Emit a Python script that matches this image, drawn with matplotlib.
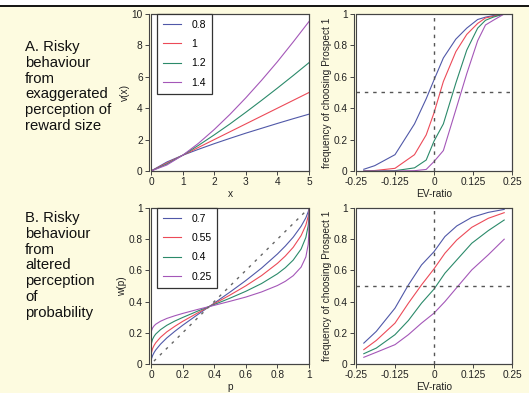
import matplotlib
matplotlib.use("Agg")
import matplotlib.pyplot as plt
from matplotlib.patches import Rectangle
from matplotlib.lines import Line2D

plt.rcParams['font.family'] = ['Liberation Sans', 'DejaVu Sans']

# ---------------- data ----------------
# Panel A-left: value function v(x)
x_vals = [0, 0.5, 1, 1.5, 2, 2.5, 3, 3.5, 4, 4.5, 5]
v_labels = ['0.8', '1', '1.2', '1.4']
v_08 = [0, 0.57, 1, 1.38, 1.74, 2.08, 2.41, 2.72, 3.03, 3.33, 3.62]
v_10 = [0, 0.5, 1, 1.5, 2, 2.5, 3, 3.5, 4, 4.5, 5]
v_12 = [0, 0.44, 1, 1.63, 2.30, 3.00, 3.74, 4.50, 5.28, 6.08, 6.90]
v_14 = [0, 0.38, 1, 1.76, 2.64, 3.61, 4.66, 5.78, 6.96, 8.22, 9.52]

# Panel A-right: choice frequency vs EV-ratio
ev_a = [-0.225, -0.19, -0.125, -0.0625, -0.025, 0, 0.03, 0.07, 0.105, 0.14, 0.165, 0.19, 0.225]
fa_08 = [0.011, 0.034, 0.104, 0.30, 0.46, 0.58, 0.72, 0.84, 0.91, 0.965, 0.98, 0.99, 1.0]
fa_10 = [0.0, 0.003, 0.017, 0.104, 0.23, 0.37, 0.57, 0.76, 0.87, 0.94, 0.975, 0.985, 1.0]
fa_12 = [0.0, 0.0, 0.002, 0.02, 0.07, 0.19, 0.30, 0.56, 0.77, 0.91, 0.96, 0.98, 1.0]
fa_14 = [0.0, 0.0, 0.0, 0.002, 0.01, 0.06, 0.13, 0.39, 0.62, 0.83, 0.93, 0.96, 1.0]

# Panel B-left: probability weighting w(p)
p_vals = [0.001, 0.003, 0.01, 0.02, 0.03, 0.06, 0.1, 0.15, 0.2, 0.3, 0.4, 0.5, 0.6,
          0.7, 0.8, 0.85, 0.9, 0.95, 0.98, 0.995, 0.999, 0.9999, 1.0]
w_labels = ['0.7', '0.55', '0.4', '0.25']
w_07 = [0.021, 0.033, 0.054, 0.074, 0.090, 0.127, 0.167, 0.209, 0.248, 0.320, 0.390, 0.461,
        0.535, 0.615, 0.705, 0.756, 0.813, 0.883, 0.937, 0.976, 0.992, 0.998, 1.0]
w_055 = [0.055, 0.072, 0.099, 0.120, 0.136, 0.171, 0.206, 0.241, 0.273, 0.330, 0.386, 0.442,
         0.501, 0.567, 0.645, 0.692, 0.748, 0.823, 0.890, 0.947, 0.978, 0.994, 1.0]
w_04 = [0.115, 0.133, 0.159, 0.178, 0.192, 0.220, 0.248, 0.275, 0.298, 0.341, 0.381, 0.422,
        0.466, 0.516, 0.578, 0.617, 0.666, 0.737, 0.811, 0.887, 0.939, 0.975, 1.0]
w_025 = [0.198, 0.212, 0.231, 0.245, 0.255, 0.274, 0.292, 0.309, 0.324, 0.351, 0.376, 0.402,
         0.429, 0.462, 0.503, 0.530, 0.566, 0.621, 0.686, 0.766, 0.837, 0.905, 1.0]

# Panel B-right: choice frequency vs EV-ratio
ev_b = [-0.225, -0.185, -0.125, -0.082, -0.04, 0, 0.035, 0.073, 0.121, 0.174, 0.225]
fb_07 = [0.134, 0.209, 0.358, 0.507, 0.635, 0.72, 0.817, 0.885, 0.94, 0.972, 0.991]
fb_055 = [0.092, 0.151, 0.262, 0.39, 0.507, 0.61, 0.71, 0.795, 0.876, 0.934, 0.970]
fb_04 = [0.066, 0.102, 0.188, 0.279, 0.39, 0.48, 0.582, 0.667, 0.774, 0.855, 0.923]
fb_025 = [0.043, 0.075, 0.124, 0.188, 0.262, 0.326, 0.40, 0.49, 0.603, 0.70, 0.80]

ev_ticks = [-0.25, -0.125, 0, 0.125, 0.25]
ev_ticklabels = ['-0.25', '-0.125', '0', '0.125', '0.25']
freq_ticks = [0, 0.2, 0.4, 0.6, 0.8, 1]
freq_ticklabels = ['0', '0.2', '0.4', '0.6', '0.8', '1']

colors = ['#5058a8', '#ec4a58', '#2b8a6a', '#a457b8']
bg = '#fdfbe0'
spine_col = '#444444'
W, H = 529, 393

fig = plt.figure(figsize=(W / 100, H / 100), dpi=100)
fig.patch.set_facecolor(bg)

# white strip on top with black rule
fig.add_artist(Rectangle((0, 1 - 5 / H), 1, 5 / H, transform=fig.transFigure,
                         facecolor='white', edgecolor='none', zorder=0))
fig.add_artist(Line2D([0, 1], [1 - 5.5 / H, 1 - 5.5 / H], transform=fig.transFigure,
                      color='black', lw=1.3))


def make_ax(l, t, r, b):
    ax = fig.add_axes([l / W, 1 - b / H, (r - l) / W, (b - t) / H])
    ax.set_facecolor('white')
    for s in ax.spines.values():
        s.set_color(spine_col)
        s.set_linewidth(0.8)
    ax.spines['left'].set_position(('outward', 1.5))
    ax.add_patch(Rectangle((0, 0), 1, 1, transform=ax.transAxes, fill=False,
                           edgecolor=spine_col, lw=0.8, clip_on=False, zorder=5))
    ax.tick_params(direction='out', length=3, width=0.7, color=spine_col,
                   labelsize=7.3, pad=1.5, labelcolor='#222222')
    return ax


def style_legend(leg):
    fr = leg.get_frame()
    fr.set_edgecolor('#333333')
    fr.set_linewidth(0.9)
    fr.set_boxstyle('square', pad=0)
    fr.set_alpha(1)


lab_kw = dict(fontsize=7.3, color='#222222', labelpad=1)
leg_kw = dict(loc='upper left', bbox_to_anchor=(0.04, 1.0), fontsize=7.5,
              handlelength=1.7, handletextpad=1.0, labelspacing=0.9,
              borderpad=0.55, borderaxespad=0, fancybox=False)

# Panel 1
ax1 = make_ax(151, 14, 309, 171)
for ys, c, lab in zip([v_08, v_10, v_12, v_14], colors, v_labels):
    ax1.plot(x_vals, ys, color=c, lw=0.8, label=lab)
ax1.set_xlim(0, 5)
ax1.set_ylim(0, 10)
ax1.set_xticks([0, 1, 2, 3, 4, 5])
ax1.set_yticks([0, 2, 4, 6, 8, 10])
ax1.set_xlabel('x', **lab_kw)
ax1.set_ylabel('v(x)', **lab_kw)
style_legend(ax1.legend(**leg_kw))

# Panel 2
ax2 = make_ax(356, 14, 512, 171)
for ys, c in zip([fa_08, fa_10, fa_12, fa_14], colors):
    ax2.plot(ev_a, ys, color=c, lw=0.8)
ax2.axvline(0, color='#555555', lw=1.0, ls=(0, (2.5, 3.5)))
ax2.axhline(0.5, color='#555555', lw=1.0, ls=(0, (2.5, 3.5)))
ax2.set_xlim(-0.25, 0.25)
ax2.set_ylim(0, 1)
ax2.set_xticks(ev_ticks, ev_ticklabels)
ax2.set_yticks(freq_ticks, freq_ticklabels)
ax2.set_xlabel('EV-ratio', **lab_kw)
ax2.set_ylabel('frequency of choosing Prospect 1', **lab_kw)

# Panel 3
ax3 = make_ax(151, 208, 309, 364)
for ys, c, lab in zip([w_07, w_055, w_04, w_025], colors, w_labels):
    ax3.plot(p_vals, ys, color=c, lw=0.8, label=lab)
ax3.plot([0, 1], [0, 1], color='#666666', lw=1.0, ls=(3, (2.0, 4.0)))
ax3.set_xlim(0, 1)
ax3.set_ylim(0, 1)
ax3.set_xticks([0, 0.2, 0.4, 0.6, 0.8, 1], ['0', '0.2', '0.4', '0.6', '0.8', '1'])
ax3.set_yticks(freq_ticks, freq_ticklabels)
ax3.set_xlabel('p', **lab_kw)
ax3.set_ylabel('w(p)', **lab_kw)
style_legend(ax3.legend(**leg_kw))

# Panel 4
ax4 = make_ax(356, 208, 512, 364)
for ys, c in zip([fb_07, fb_055, fb_04, fb_025], colors):
    ax4.plot(ev_b, ys, color=c, lw=0.8)
ax4.axvline(0, color='#555555', lw=1.0, ls=(0, (2.5, 3.5)))
ax4.axhline(0.5, color='#555555', lw=1.0, ls=(0, (2.5, 3.5)))
ax4.set_xlim(-0.25, 0.25)
ax4.set_ylim(0, 1)
ax4.set_xticks(ev_ticks, ev_ticklabels)
ax4.set_yticks(freq_ticks, freq_ticklabels)
ax4.set_xlabel('EV-ratio', **lab_kw)
ax4.set_ylabel('frequency of choosing Prospect 1', **lab_kw)

# Side descriptions
txt_kw = dict(fontsize=10.7, color='#111111', va='top', ha='left', linespacing=1.16)
fig.text(25 / W, 1 - 40 / H,
         'A. Risky\nbehaviour\nfrom\nexaggerated\nperception of\nreward size', **txt_kw)
fig.text(25 / W, 1 - 211 / H,
         'B. Risky\nbehaviour\nfrom\naltered\nperception\nof\nprobability', **txt_kw)

fig.savefig('out.png', dpi=100, facecolor=fig.get_facecolor())
